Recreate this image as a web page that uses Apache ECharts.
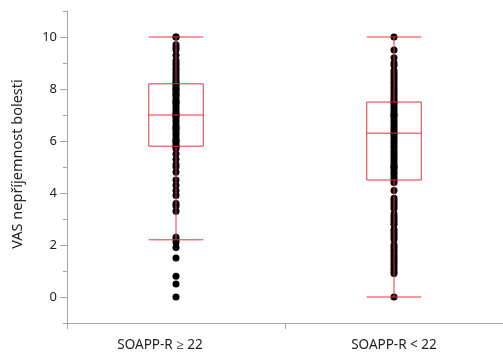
<!DOCTYPE html>
<html>
<head>
<meta charset="utf-8">
<script src="https://cdn.jsdelivr.net/npm/echarts@6/dist/echarts.min.js"></script>
<style>
  html, body { margin: 0; padding: 0; background: #fff; }
  #chart { width: 503px; height: 354px; }
</style>
</head>
<body>
<div id="chart"></div>
<script>
// Groups on the x axis
const categories = ['SOAPP-R \u2265 22', 'SOAPP-R < 22'];

// Individual VAS scores per group
const scoresHigh = [
  10.0, 10.0, 9.7, 9.6, 9.5, 9.3, 9.1, 9.0, 8.9, 8.8, 8.7, 8.6, 8.5, 8.4, 8.3,
  8.2, 8.2, 8.1, 8.0, 8.0, 7.9, 7.8, 7.8, 7.7, 7.6, 7.5, 7.5, 7.4, 7.3, 7.2,
  7.1, 7.0, 7.0, 7.0, 6.9, 6.8, 6.7, 6.6, 6.5, 6.5, 6.4, 6.3, 6.2, 6.1, 6.0,
  6.0, 5.9, 5.8, 5.8, 5.7, 5.5, 5.3, 5.1, 5.0, 4.8, 4.5, 4.3, 4.1, 3.9, 3.6,
  3.5, 3.3, 2.3, 2.2, 2.1, 1.9, 1.5, 0.8, 0.5, 0.0
];
const scoresLow = [
  10.0, 9.5, 9.2, 9.0, 8.9, 8.7, 8.6, 8.5, 8.4, 8.3, 8.2, 8.1, 8.0, 7.9, 7.8,
  7.7, 7.6, 7.5, 7.5, 7.4, 7.3, 7.2, 7.1, 7.0, 7.0, 6.9, 6.8, 6.7, 6.6, 6.5,
  6.4, 6.3, 6.3, 6.2, 6.1, 6.0, 5.9, 5.8, 5.7, 5.6, 5.5, 5.4, 5.3, 5.2, 5.1,
  5.0, 5.0, 4.9, 4.8, 4.7, 4.6, 4.5, 4.4, 4.1, 3.8, 3.7, 3.6, 3.5, 3.4, 3.2,
  3.1, 3.0, 2.9, 2.8, 2.6, 2.5, 2.4, 2.3, 2.2, 2.0, 1.9, 1.8, 1.7, 1.6, 1.5,
  1.4, 1.3, 1.2, 1.1, 1.0, 0.9, 0.0
];

// Box summaries: [lower whisker, Q1, median, Q3, upper whisker]
const boxHigh = [2.2, 5.8, 7.0, 8.2, 10.0];
const boxLow = [0.0, 4.5, 6.3, 7.5, 10.0];

// Y axis ticks
const majorTicks = [0, 2, 4, 6, 8, 10];
const minorTicks = [-1, 1, 3, 5, 7, 9, 11];

const FONT = 'Noto Sans';
const AXIS_GREY = '#a6a6a6';
const BOX_RED = '#e8323f';

const chart = echarts.init(document.getElementById('chart'), null, { renderer: 'canvas' });

const yBase = {
  type: 'value',
  min: -1,
  max: 11,
  splitLine: { show: false },
  axisLine: { show: true, lineStyle: { color: AXIS_GREY, width: 1 } }
};

chart.setOption({
  animation: false,
  backgroundColor: '#fff',
  grid: { left: 67, right: 0, top: 11, bottom: 31 },
  xAxis: {
    type: 'category',
    data: [
      { value: categories[0], textStyle: { padding: [0, 32, 0, 0] } },
      { value: categories[1] }
    ],
    boundaryGap: true,
    axisLine: { show: true, onZero: false, lineStyle: { color: AXIS_GREY, width: 1 } },
    axisTick: { show: true, length: 6, alignWithLabel: false, lineStyle: { color: AXIS_GREY } },
    axisLabel: { margin: 15, color: '#222', fontFamily: FONT, fontSize: 13.5 }
  },
  yAxis: [
    Object.assign({}, yBase, {
      axisTick: { show: true, length: 7, customValues: majorTicks, lineStyle: { color: AXIS_GREY } },
      axisLabel: { show: true, customValues: majorTicks, margin: 10, color: '#222', fontFamily: FONT, fontSize: 13 }
    }),
    Object.assign({}, yBase, {
      position: 'left',
      offset: 0,
      axisLine: { show: false },
      axisTick: { show: true, length: 4, customValues: minorTicks, lineStyle: { color: AXIS_GREY } },
      axisLabel: { show: false }
    })
  ],
  graphic: [{
    type: 'text',
    x: 18,
    y: 164,
    rotation: Math.PI / 2,
    style: {
      text: 'VAS nep\u0159\u00edjemnost bolesti',
      fontFamily: FONT,
      fontSize: 14.5,
      fill: '#222',
      align: 'center',
      verticalAlign: 'middle'
    }
  }],
  series: [
    {
      type: 'scatter',
      yAxisIndex: 0,
      symbol: 'circle',
      symbolSize: 7,
      itemStyle: { color: '#000', opacity: 1 },
      z: 2,
      data: scoresHigh.map(v => [0, v]).concat(scoresLow.map(v => [1, v]))
    },
    {
      type: 'boxplot',
      yAxisIndex: 0,
      boxWidth: ['25%', '25%'],
      itemStyle: { color: 'rgba(0,0,0,0)', borderColor: BOX_RED, borderWidth: 1 },
      z: 3,
      data: [boxHigh, boxLow]
    }
  ]
});
</script>
</body>
</html>
